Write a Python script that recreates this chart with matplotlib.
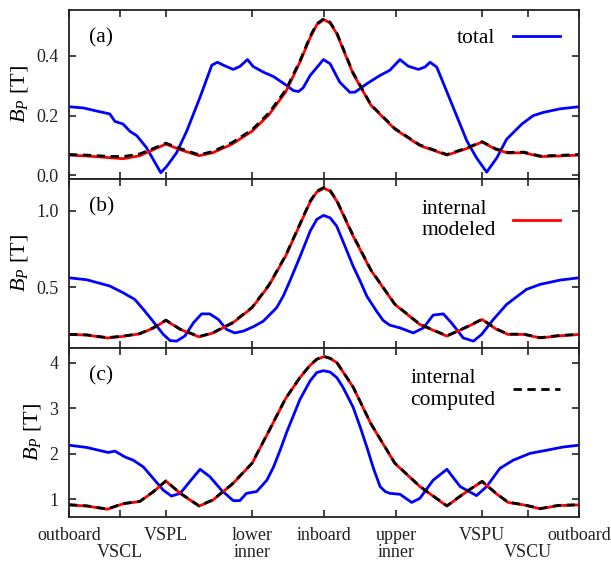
import numpy as np
import matplotlib
matplotlib.use("Agg")
import matplotlib.pyplot as plt

plt.rcParams['font.family'] = ['Liberation Serif', 'DejaVu Serif']
plt.rcParams['mathtext.fontset'] = 'custom'
plt.rcParams['mathtext.rm'] = 'Liberation Serif'
plt.rcParams['mathtext.it'] = 'Liberation Serif:italic'
plt.rcParams['font.size'] = 13

# x positions along the contour (0 = outboard, 1 = outboard again)
tick_pos = [0.0, 0.1, 0.19, 0.359, 0.5, 0.641, 0.81, 0.9, 1.0]
tick_lab = ['outboard', '\nVSCL', 'VSPL', 'lower\ninner', 'inboard',
            'upper\ninner', 'VSPU', '\nVSCU', 'outboard']

# internal field (modeled / computed) share one x grid
x_int = [0.000, 0.035, 0.075, 0.106, 0.139, 0.165, 0.190, 0.218, 0.255, 0.282,
         0.320, 0.359, 0.392, 0.425, 0.453, 0.473, 0.486, 0.500, 0.512, 0.525,
         0.557, 0.592, 0.639, 0.688, 0.741, 0.780, 0.810, 0.837, 0.861, 0.892,
         0.924, 0.959, 1.000]

# panel (a)
x_tot_a = [0, 0.028, 0.061, 0.080, 0.090, 0.106, 0.120, 0.133, 0.152, 0.167,
           0.180, 0.192, 0.211, 0.231, 0.257, 0.280, 0.291, 0.303, 0.322, 0.335,
           0.350, 0.361, 0.381, 0.401, 0.427, 0.440, 0.450, 0.459, 0.473, 0.499,
           0.512, 0.531, 0.551, 0.561, 0.584, 0.610, 0.629, 0.649, 0.665, 0.685,
           0.698, 0.708, 0.721, 0.740, 0.760, 0.780, 0.799, 0.819, 0.839, 0.858,
           0.888, 0.910, 0.930, 0.963, 1.0]
tot_a = [0.230, 0.226, 0.213, 0.206, 0.181, 0.172, 0.147, 0.133, 0.093, 0.048,
         0.009, 0.031, 0.076, 0.149, 0.262, 0.369, 0.379, 0.369, 0.355, 0.365,
         0.388, 0.365, 0.346, 0.331, 0.301, 0.284, 0.281, 0.293, 0.335, 0.388,
         0.374, 0.312, 0.278, 0.279, 0.307, 0.335, 0.352, 0.388, 0.366, 0.355,
         0.363, 0.379, 0.363, 0.284, 0.200, 0.116, 0.059, 0.011, 0.059, 0.121,
         0.172, 0.200, 0.211, 0.223, 0.230]
mod_a = [0.068, 0.065, 0.060, 0.056, 0.066, 0.086, 0.105, 0.086, 0.066, 0.076,
         0.105, 0.148, 0.203, 0.280, 0.380, 0.462, 0.505, 0.522, 0.510, 0.475,
         0.341, 0.235, 0.155, 0.100, 0.068, 0.090, 0.112, 0.087, 0.075, 0.076,
         0.063, 0.065, 0.068]
cmp_a = [0.070, 0.068, 0.064, 0.063, 0.072, 0.090, 0.108, 0.090, 0.069, 0.080,
         0.110, 0.153, 0.209, 0.286, 0.384, 0.466, 0.508, 0.525, 0.513, 0.478,
         0.344, 0.237, 0.157, 0.102, 0.070, 0.092, 0.113, 0.089, 0.077, 0.078,
         0.065, 0.067, 0.070]

# panel (b)
x_tot_b = [0, 0.035, 0.080, 0.106, 0.129, 0.146, 0.162, 0.185, 0.198, 0.211,
           0.227, 0.244, 0.260, 0.276, 0.293, 0.309, 0.325, 0.342, 0.361, 0.381,
           0.407, 0.420, 0.433, 0.453, 0.473, 0.486, 0.499, 0.512, 0.525, 0.545,
           0.557, 0.571, 0.584, 0.603, 0.616, 0.629, 0.649, 0.675, 0.695, 0.714,
           0.734, 0.750, 0.773, 0.793, 0.809, 0.832, 0.858, 0.897, 0.924, 0.963,
           1.0]
tot_b = [0.561, 0.548, 0.507, 0.463, 0.419, 0.353, 0.287, 0.189, 0.149, 0.145,
         0.178, 0.265, 0.324, 0.324, 0.287, 0.222, 0.199, 0.211, 0.239, 0.276,
         0.364, 0.440, 0.539, 0.700, 0.868, 0.945, 0.971, 0.955, 0.900, 0.737,
         0.638, 0.539, 0.440, 0.342, 0.281, 0.250, 0.232, 0.199, 0.232, 0.316,
         0.324, 0.265, 0.166, 0.145, 0.189, 0.287, 0.386, 0.485, 0.518, 0.546,
         0.561]
mod_b = [0.189, 0.185, 0.166, 0.176, 0.193, 0.230, 0.281, 0.222, 0.173, 0.198,
         0.262, 0.364, 0.510, 0.705, 0.912, 1.060, 1.125, 1.149, 1.130, 1.066,
         0.836, 0.610, 0.386, 0.254, 0.178, 0.237, 0.287, 0.225, 0.189, 0.189,
         0.166, 0.179, 0.189]
cmp_b = [0.190, 0.186, 0.168, 0.178, 0.195, 0.232, 0.283, 0.224, 0.175, 0.200,
         0.265, 0.367, 0.514, 0.709, 0.916, 1.065, 1.130, 1.155, 1.135, 1.070,
         0.840, 0.613, 0.388, 0.256, 0.180, 0.239, 0.289, 0.227, 0.191, 0.191,
         0.168, 0.181, 0.190]

# panel (c)
x_tot_c = [0, 0.035, 0.077, 0.090, 0.110, 0.126, 0.146, 0.165, 0.185, 0.201,
           0.218, 0.237, 0.257, 0.276, 0.299, 0.322, 0.335, 0.348, 0.368, 0.388,
           0.401, 0.414, 0.427, 0.440, 0.453, 0.473, 0.486, 0.499, 0.512, 0.525,
           0.537, 0.557, 0.571, 0.584, 0.597, 0.610, 0.620, 0.629, 0.649, 0.672,
           0.688, 0.714, 0.741, 0.767, 0.799, 0.819, 0.845, 0.871, 0.904, 0.937,
           0.969, 1.0]
tot_c = [2.19, 2.14, 2.03, 2.06, 1.93, 1.86, 1.71, 1.46, 1.20, 1.07,
         1.13, 1.39, 1.66, 1.50, 1.20, 0.97, 0.97, 1.13, 1.17, 1.42,
         1.71, 2.08, 2.48, 2.84, 3.20, 3.61, 3.79, 3.83, 3.80, 3.68,
         3.47, 3.03, 2.59, 2.15, 1.68, 1.28, 1.17, 1.13, 1.11, 0.93,
         1.02, 1.42, 1.66, 1.28, 1.08, 1.28, 1.68, 1.86, 2.01, 2.08,
         2.15, 2.19]
mod_c = [0.875, 0.85, 0.78, 0.90, 0.95, 1.16, 1.40, 1.13, 0.85, 0.98,
         1.33, 1.79, 2.50, 3.22, 3.68, 3.95, 4.08, 4.14, 4.10, 4.01,
         3.47, 2.66, 1.79, 1.28, 0.85, 1.17, 1.39, 1.13, 0.93, 0.875,
         0.79, 0.86, 0.875]
cmp_c = [0.88, 0.855, 0.785, 0.905, 0.955, 1.165, 1.405, 1.135, 0.855, 0.985,
         1.335, 1.795, 2.505, 3.225, 3.685, 3.955, 4.085, 4.145, 4.105, 4.015,
         3.475, 2.665, 1.795, 1.285, 0.855, 1.175, 1.395, 1.135, 0.935, 0.88,
         0.795, 0.865, 0.88]

panels = [
    ('(a)', x_tot_a, tot_a, mod_a, cmp_a, (-0.012, 0.554), [0.0, 0.2, 0.4], '%.1f'),
    ('(b)', x_tot_b, tot_b, mod_b, cmp_b, (0.10, 1.21), [0.5, 1.0], '%.1f'),
    ('(c)', x_tot_c, tot_c, mod_c, cmp_c, (0.61, 4.33), [1, 2, 3, 4], '%d'),
]

fig, axs = plt.subplots(3, 1, sharex=True, figsize=(6.11, 5.65), dpi=100,
                        gridspec_kw={'hspace': 0})
fig.subplots_adjust(left=0.1129, right=0.9476, top=0.9823, bottom=0.085)

legend_text = ['total', 'internal\nmodeled', 'internal\ncomputed']
legend_y = [0.833, 0.757, 0.752]
ylabel_x = [-0.076, -0.076, -0.05]

for i, (ax, p) in enumerate(zip(axs, panels)):
    tag, xt, yt, ym, yc, ylim, yt_ticks, fmt = p
    l1, = ax.plot(xt, yt, color='#0000ff', lw=2)
    l2, = ax.plot(x_int, ym, color='#ff0000', lw=2)
    l3, = ax.plot(x_int, yc, color='black', lw=2, ls=(0, (3, 2)))
    ax.set_xlim(0, 1)
    ax.set_ylim(*ylim)
    ax.set_yticks(yt_ticks)
    ax.set_yticklabels([fmt % v for v in yt_ticks])
    ax.set_ylabel(r'$B_P$ [T]', fontsize=16)
    ax.yaxis.set_label_coords(ylabel_x[i], 0.5)
    ax.text(0.04, 0.835, tag, transform=ax.transAxes, va='center', ha='left',
            fontsize=15.5)
    ax.tick_params(direction='in', top=True, right=True, length=5, width=1.2,
                   colors='#222222', labelsize=13, pad=7.5)
    for s in ax.spines.values():
        s.set_linewidth(1.3)
        s.set_color('#222222')
    handle = [l1, l2, l3][i]
    ax.legend([handle], [legend_text[i]], loc='center right', frameon=False,
              markerfirst=False, handlelength=2.2, handletextpad=0.8,
              borderpad=0, borderaxespad=0, fontsize=15.5,
              bbox_to_anchor=(1 - 19 / 510., legend_y[i]))

axs[2].set_xticks(tick_pos)
axs[2].set_xticklabels(tick_lab)
for lbl in axs[2].get_xticklabels():
    lbl.set_linespacing(1.0)

fig.savefig('out.png', dpi=100)
